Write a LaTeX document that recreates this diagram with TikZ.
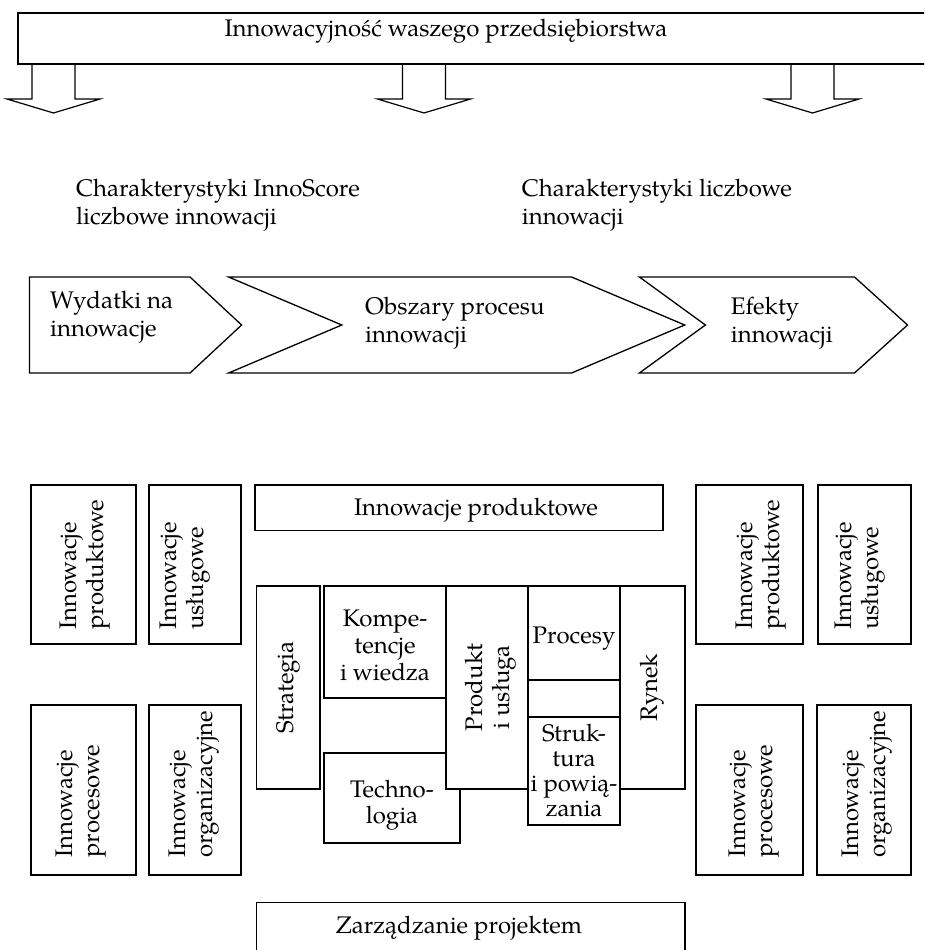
\documentclass[tikz,border=0pt]{standalone}
\usepackage{fontspec}
\setmainfont{TeX Gyre Pagella}
\begin{document}
\begin{tikzpicture}[x=1pt,y=-1pt,
  box/.style={draw=black, line width=1.3pt, fill=white},
  txt/.style={inner sep=0pt, font=\fontsize{24}{27.5}\selectfont},
  ltxt/.style={txt, anchor=base west},
  ctxt/.style={txt, anchor=base},
  rtxt/.style={txt, rotate=90, anchor=base west},
  rctxt/.style={txt, rotate=90, anchor=base}]
\useasboundingbox (0,0) rectangle (924,950);
\clip (0,0) rectangle (924,950);
\fill[white] (0,0) rectangle (924,950);

% top box
\draw[line width=2pt] (940,12.7) -- (18,12.7) -- (18,64) -- (940,64);
\node[ctxt] (top) at (446,37) {Innowacyjność waszego przedsiębiorstwa};

% block arrows
\foreach \c/\n in {53.5/a1,424/a2,812.5/a3}
  \draw[line width=1.2pt] ({\c-21.5},64) -- ({\c-21.5},99) -- ({\c-46.5},99) -- (\c,113)
     -- ({\c+46.5},99) -- ({\c+21.5},99) -- ({\c+21.5},64);

% characteristic texts
\node[ltxt] (ch1a) at (76,196.7) {Charakterystyki InnoScore};
\node[ltxt] (ch1b) at (76,224) {liczbowe innowacji};
\node[ltxt] (ch2a) at (521.7,196.7) {Charakterystyki liczbowe};
\node[ltxt] (ch2b) at (521.7,224) {innowacji};

% chevrons
\draw[box] (29.5,277) -- (190,277) -- (241.6,325) -- (190,373) -- (29.5,373) -- cycle;
\draw[box] (228.6,277) -- (571.6,277) -- (684.7,325) -- (571.6,373) -- (228.6,373) -- (341.8,325) -- cycle;
\draw[box] (639.4,277) -- (854.5,277) -- (907.5,325) -- (854.5,373) -- (639.4,373) -- (705.4,325) -- cycle;
\node[ltxt] (wa) at (50,308) {Wydatki na};
\node[ltxt] (wb) at (50,336) {innowacje};
\node[ltxt] (oa) at (365,314) {Obszary procesu};
\node[ltxt] (ob) at (365,342) {innowacji};
\node[ltxt] (ea) at (730.7,314) {Efekty};
\node[ltxt] (eb) at (730.7,342) {innowacji};

% side boxes
\draw[box] (31,485) rectangle (136,644);
\draw[box] (149,485) rectangle (241,644);
\draw[box] (31,705) rectangle (136,875);
\draw[box] (149,705) rectangle (241,875);
\draw[box] (696,485) rectangle (803,644);
\draw[box] (818,485) rectangle (911,644);
\draw[box] (696,705) rectangle (803,875);
\draw[box] (817,705) rectangle (911,875);

\node[rtxt] (l1a) at (76.5,630) {Innowacje};
\node[rtxt] (l1b) at (103.5,630) {produktowe};
\node[rtxt] (l2a) at (176,630) {Innowacje};
\node[rtxt] (l2b) at (203,630) {usługowe};
\node[rtxt] (l3a) at (72,858) {Innowacje};
\node[rtxt] (l3b) at (99,858) {procesowe};
\node[rtxt] (l4a) at (185,858) {Innowacje};
\node[rtxt] (l4b) at (212,858) {organizacyjne};
\node[rtxt] (r1a) at (752.5,630) {Innowacje};
\node[rtxt] (r1b) at (779.5,630) {produktowe};
\node[rtxt] (r2a) at (851,630) {Innowacje};
\node[rtxt] (r2b) at (878,630) {usługowe};
\node[rtxt] (r3a) at (745.5,858) {Innowacje};
\node[rtxt] (r3b) at (772.5,858) {procesowe};
\node[rtxt] (r4a) at (858.5,858) {Innowacje};
\node[rtxt] (r4b) at (885.5,858) {organizacyjne};

% central block
\draw[box] (255,485) rectangle (663,530.7);
\node[ctxt] (ip) at (476,515.7) {Innowacje produktowe};

\draw[box] (256.7,586) rectangle (320,789);
\node[txt, rotate=90] (str) at (288,687.5) {Strategia};

\draw[box] (324,586) rectangle (446,698);
\node[ctxt] (ka) at (385,626) {Kompe-};
\node[ctxt] (kb) at (385,653) {tencje};
\node[ctxt] (kc) at (385,680) {i wiedza};

\draw[box] (324,753) rectangle (460,843);
\node[ctxt] (ta) at (392,797) {Techno-};
\node[ctxt] (tb) at (392,823) {logia};

\draw[box] (446,586) rectangle (528,789);
\node[rctxt] (pa) at (482,687.5) {Produkt};
\node[rctxt] (pb) at (509,687.5) {i usługa};

\draw[box] (528,586) rectangle (620,680);
\node[ctxt] (pr) at (574,643) {Procesy};
\draw[box] (528,680) rectangle (620,717);
\draw[box] (528,717) rectangle (620,825);
\node[ctxt] (sa) at (574,741.5) {Struk-};
\node[ctxt] (sb) at (574,766.5) {tura};
\node[ctxt] (sc) at (574,791.5) {i powią-};
\node[ctxt] (sd) at (574,816.5) {zania};

\draw[box] (620,586) rectangle (685,789);
\node[txt, rotate=90] (ry) at (652.5,687.5) {Rynek};

\draw[box] (256.7,902.7) rectangle (685,970);
\node[ctxt] (zp) at (459,933) {Zarządzanie projektem};
\end{tikzpicture}
\end{document}
